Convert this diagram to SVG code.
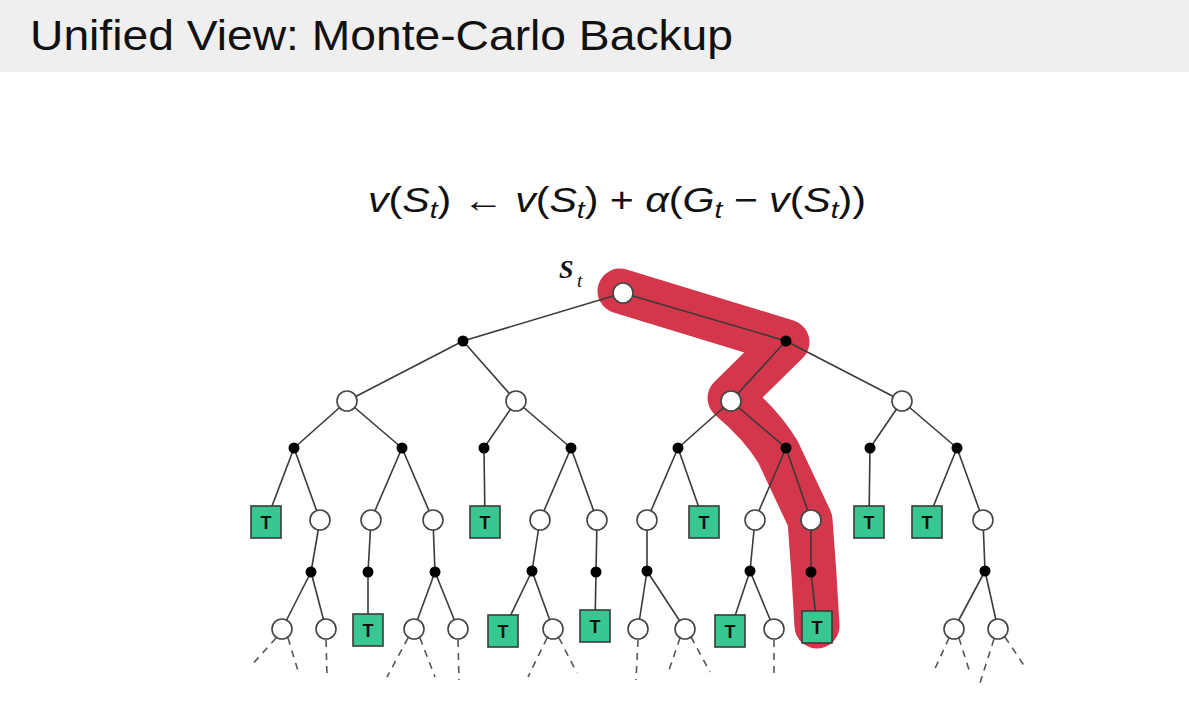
<svg xmlns="http://www.w3.org/2000/svg" width="1189" height="704" viewBox="0 0 1189 704">
  <style>
    .edge { stroke: #3a3a3a; stroke-width: 1.6; fill: none; }
    .dash { stroke: #555; stroke-width: 1.6; stroke-dasharray: 7 6; fill: none; }
    .state { fill: #ffffff; stroke: #444; stroke-width: 1.6; }
    .action { fill: #000000; }
    .term { fill: #38c790; stroke: #3a3a3a; stroke-width: 1.6; }
    .tlabel { font-family: "Liberation Sans", Arial, sans-serif; font-weight: bold; font-size: 18px; fill: #111; text-anchor: middle; }
    .math { font-family: "Liberation Sans", Arial, sans-serif; font-size: 35px; fill: #111; }
  </style>
  <defs>
    <circle id="sNode" r="10" class="state"/>
    <circle id="aNode" r="5.5" class="action"/>
    <g id="tNode">
      <rect x="-15" y="-16" width="30" height="32" class="term"/>
      <text y="7" class="tlabel">T</text>
    </g>
  </defs>

  <!-- title bar -->
  <rect x="0" y="0" width="1189" height="72" fill="#efefef"/>
  <text x="30" y="50" font-family="Liberation Sans, Arial, sans-serif" font-size="42" fill="#111" textLength="703" lengthAdjust="spacingAndGlyphs">Unified View: Monte-Carlo Backup</text>

  <!-- update rule -->
  <text class="math" x="368" y="212" textLength="498" lengthAdjust="spacingAndGlyphs"><tspan font-style="italic">v</tspan>(<tspan font-style="italic">S</tspan><tspan font-style="italic" font-size="24" dy="6">t</tspan><tspan dy="-6">) ← </tspan><tspan font-style="italic">v</tspan>(<tspan font-style="italic">S</tspan><tspan font-style="italic" font-size="24" dy="6">t</tspan><tspan dy="-6">) + </tspan><tspan font-style="italic">α</tspan>(<tspan font-style="italic">G</tspan><tspan font-style="italic" font-size="24" dy="6">t</tspan><tspan dy="-6"> − </tspan><tspan font-style="italic">v</tspan>(<tspan font-style="italic">S</tspan><tspan font-style="italic" font-size="24" dy="6">t</tspan><tspan dy="-6">))</tspan></text>

  <!-- sampled trajectory highlight -->
  <path d="M620,291 L787,342 L730,398 Q762,425 778,452 L810,520 L814,575 L817,626" fill="none" stroke="#d4364b" stroke-width="45" stroke-linecap="round" stroke-linejoin="round"/>

  <!-- root label -->
  <text x="559" y="278" font-family="Liberation Serif, Times New Roman, serif" font-style="italic" font-weight="bold" font-size="26" fill="#111">S</text>
  <text x="577" y="287" font-family="Liberation Serif, Times New Roman, serif" font-style="italic" font-size="19" fill="#111">t</text>

  <g id="connectors">
    <line class="edge" x1="623" y1="293" x2="463" y2="341"/>
    <line class="edge" x1="623" y1="293" x2="786" y2="341"/>
    <line class="edge" x1="463" y1="341" x2="347" y2="401"/>
    <line class="edge" x1="463" y1="341" x2="516" y2="401"/>
    <line class="edge" x1="786" y1="341" x2="731" y2="401"/>
    <line class="edge" x1="786" y1="341" x2="902" y2="401"/>
    <line class="edge" x1="347" y1="401" x2="294" y2="448"/>
    <line class="edge" x1="347" y1="401" x2="402" y2="448"/>
    <line class="edge" x1="516" y1="401" x2="484" y2="448"/>
    <line class="edge" x1="516" y1="401" x2="571" y2="448"/>
    <line class="edge" x1="731" y1="401" x2="678" y2="448"/>
    <line class="edge" x1="731" y1="401" x2="786" y2="448"/>
    <line class="edge" x1="902" y1="401" x2="870" y2="448"/>
    <line class="edge" x1="902" y1="401" x2="957" y2="448"/>
    <line class="edge" x1="294" y1="448" x2="266" y2="522"/>
    <line class="edge" x1="294" y1="448" x2="320" y2="520"/>
    <line class="edge" x1="402" y1="448" x2="371" y2="520"/>
    <line class="edge" x1="402" y1="448" x2="433" y2="520"/>
    <line class="edge" x1="484" y1="448" x2="485" y2="522"/>
    <line class="edge" x1="571" y1="448" x2="540" y2="520"/>
    <line class="edge" x1="571" y1="448" x2="597" y2="520"/>
    <line class="edge" x1="678" y1="448" x2="647" y2="520"/>
    <line class="edge" x1="678" y1="448" x2="704" y2="522"/>
    <line class="edge" x1="786" y1="448" x2="755" y2="520"/>
    <line class="edge" x1="786" y1="448" x2="811" y2="520"/>
    <line class="edge" x1="870" y1="448" x2="869" y2="522"/>
    <line class="edge" x1="957" y1="448" x2="927" y2="522"/>
    <line class="edge" x1="957" y1="448" x2="983" y2="520"/>
    <line class="edge" x1="320" y1="520" x2="311" y2="572"/>
    <line class="edge" x1="371" y1="520" x2="368" y2="572"/>
    <line class="edge" x1="433" y1="520" x2="435" y2="572"/>
    <line class="edge" x1="540" y1="520" x2="532" y2="571"/>
    <line class="edge" x1="597" y1="520" x2="596" y2="572"/>
    <line class="edge" x1="647" y1="520" x2="647" y2="571"/>
    <line class="edge" x1="755" y1="520" x2="750" y2="571"/>
    <line class="edge" x1="811" y1="520" x2="811" y2="572"/>
    <line class="edge" x1="983" y1="520" x2="985" y2="571"/>
    <line class="edge" x1="311" y1="572" x2="282" y2="629"/>
    <line class="edge" x1="311" y1="572" x2="326" y2="629"/>
    <line class="edge" x1="368" y1="572" x2="368" y2="630"/>
    <line class="edge" x1="435" y1="572" x2="414" y2="629"/>
    <line class="edge" x1="435" y1="572" x2="458" y2="629"/>
    <line class="edge" x1="532" y1="571" x2="503" y2="631"/>
    <line class="edge" x1="532" y1="571" x2="553" y2="629"/>
    <line class="edge" x1="596" y1="572" x2="595" y2="626"/>
    <line class="edge" x1="647" y1="571" x2="638" y2="629"/>
    <line class="edge" x1="647" y1="571" x2="685" y2="629"/>
    <line class="edge" x1="750" y1="571" x2="730" y2="631"/>
    <line class="edge" x1="750" y1="571" x2="774" y2="629"/>
    <line class="edge" x1="811" y1="572" x2="817" y2="627"/>
    <line class="edge" x1="985" y1="571" x2="954" y2="629"/>
    <line class="edge" x1="985" y1="571" x2="998" y2="629"/>
    <!-- unexpanded continuations -->
    <line class="dash" x1="276" y1="638" x2="250" y2="667"/>
    <line class="dash" x1="288" y1="638" x2="298" y2="671"/>
    <line class="dash" x1="326" y1="640" x2="327" y2="675"/>
    <line class="dash" x1="408" y1="638" x2="387" y2="677"/>
    <line class="dash" x1="420" y1="638" x2="435" y2="677"/>
    <line class="dash" x1="458" y1="640" x2="459" y2="680"/>
    <line class="dash" x1="547" y1="638" x2="528" y2="677"/>
    <line class="dash" x1="559" y1="638" x2="577" y2="673"/>
    <line class="dash" x1="638" y1="640" x2="636" y2="680"/>
    <line class="dash" x1="680" y1="638" x2="668" y2="673"/>
    <line class="dash" x1="691" y1="637" x2="710" y2="672"/>
    <line class="dash" x1="774" y1="640" x2="774" y2="675"/>
    <line class="dash" x1="949" y1="638" x2="933" y2="673"/>
    <line class="dash" x1="959" y1="638" x2="970" y2="673"/>
    <line class="dash" x1="994" y1="639" x2="980" y2="683"/>
    <line class="dash" x1="1005" y1="637" x2="1025" y2="667"/>
  </g>

  <!-- states -->
  <g id="s0"><use href="#sNode" x="623" y="293"/></g>
  <g id="s1"><use href="#sNode" x="347" y="401"/></g>
  <g id="s2"><use href="#sNode" x="516" y="401"/></g>
  <g id="s3"><use href="#sNode" x="731" y="401"/></g>
  <g id="s4"><use href="#sNode" x="902" y="401"/></g>
  <g id="c1"><use href="#sNode" x="320" y="520"/></g>
  <g id="c2"><use href="#sNode" x="371" y="520"/></g>
  <g id="c3"><use href="#sNode" x="433" y="520"/></g>
  <g id="c4"><use href="#sNode" x="540" y="520"/></g>
  <g id="c5"><use href="#sNode" x="597" y="520"/></g>
  <g id="c6"><use href="#sNode" x="647" y="520"/></g>
  <g id="c7"><use href="#sNode" x="755" y="520"/></g>
  <g id="c8"><use href="#sNode" x="811" y="520"/></g>
  <g id="c9"><use href="#sNode" x="983" y="520"/></g>
  <g id="d1"><use href="#sNode" x="282" y="629"/></g>
  <g id="d2"><use href="#sNode" x="326" y="629"/></g>
  <g id="d3"><use href="#sNode" x="414" y="629"/></g>
  <g id="d4"><use href="#sNode" x="458" y="629"/></g>
  <g id="d5"><use href="#sNode" x="553" y="629"/></g>
  <g id="d6"><use href="#sNode" x="638" y="629"/></g>
  <g id="d7"><use href="#sNode" x="685" y="629"/></g>
  <g id="d8"><use href="#sNode" x="774" y="629"/></g>
  <g id="d9"><use href="#sNode" x="954" y="629"/></g>
  <g id="d10"><use href="#sNode" x="998" y="629"/></g>

  <!-- actions -->
  <g id="a1"><use href="#aNode" x="463" y="341"/></g>
  <g id="a2"><use href="#aNode" x="786" y="341"/></g>
  <g id="a11"><use href="#aNode" x="294" y="448"/></g>
  <g id="a12"><use href="#aNode" x="402" y="448"/></g>
  <g id="a21"><use href="#aNode" x="484" y="448"/></g>
  <g id="a22"><use href="#aNode" x="571" y="448"/></g>
  <g id="a31"><use href="#aNode" x="678" y="448"/></g>
  <g id="a32"><use href="#aNode" x="786" y="448"/></g>
  <g id="a41"><use href="#aNode" x="870" y="448"/></g>
  <g id="a42"><use href="#aNode" x="957" y="448"/></g>
  <g id="b1"><use href="#aNode" x="311" y="572"/></g>
  <g id="b2"><use href="#aNode" x="368" y="572"/></g>
  <g id="b3"><use href="#aNode" x="435" y="572"/></g>
  <g id="b4"><use href="#aNode" x="532" y="571"/></g>
  <g id="b5"><use href="#aNode" x="596" y="572"/></g>
  <g id="b6"><use href="#aNode" x="647" y="571"/></g>
  <g id="b7"><use href="#aNode" x="750" y="571"/></g>
  <g id="b8"><use href="#aNode" x="811" y="572"/></g>
  <g id="b9"><use href="#aNode" x="985" y="571"/></g>

  <!-- terminals -->
  <g id="t1"><use href="#tNode" x="266" y="522"/></g>
  <g id="t2"><use href="#tNode" x="485" y="522"/></g>
  <g id="t3"><use href="#tNode" x="704" y="522"/></g>
  <g id="t4"><use href="#tNode" x="869" y="522"/></g>
  <g id="t5"><use href="#tNode" x="927" y="522"/></g>
  <g id="t6"><use href="#tNode" x="368" y="630"/></g>
  <g id="t7"><use href="#tNode" x="503" y="631"/></g>
  <g id="t8"><use href="#tNode" x="595" y="626"/></g>
  <g id="t9"><use href="#tNode" x="730" y="631"/></g>
  <g id="t10"><use href="#tNode" x="817" y="627"/></g>
</svg>
